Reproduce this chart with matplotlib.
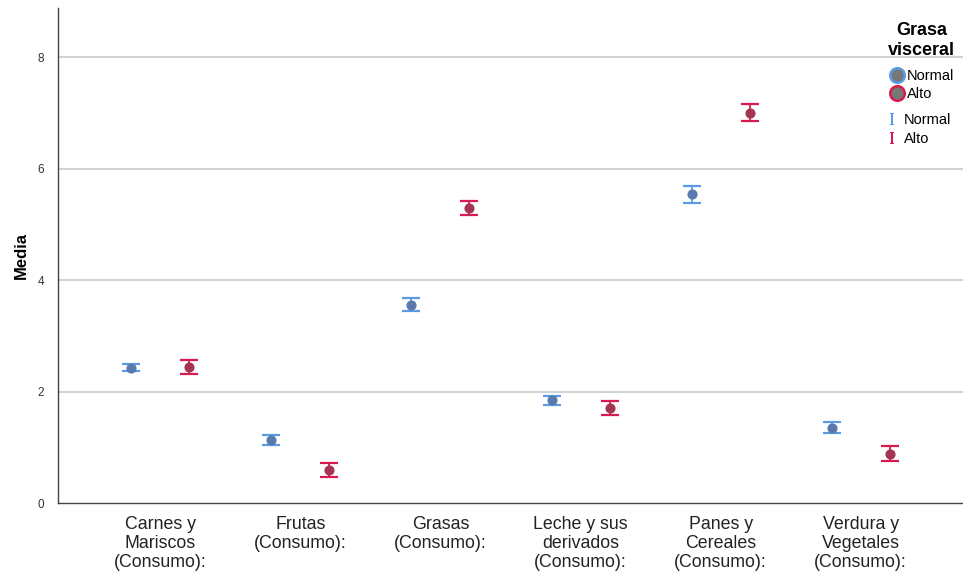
import numpy as np
import matplotlib
matplotlib.use('Agg')
from matplotlib import pyplot as plt

# Medias y semiamplitud del intervalo por grupo de grasa visceral
categorias = ['Carnes y\nMariscos\n(Consumo):', 'Frutas\n(Consumo):', 'Grasas\n(Consumo):',
              'Leche y sus\nderivados\n(Consumo):', 'Panes y\nCereales\n(Consumo):',
              'Verdura y\nVegetales\n(Consumo):']
media_normal = [2.43, 1.13, 3.56, 1.84, 5.54, 1.35]
err_normal = [0.07, 0.085, 0.11, 0.075, 0.15, 0.095]
media_alto = [2.44, 0.59, 5.30, 1.70, 7.00, 0.885]
err_alto = [0.117, 0.13, 0.125, 0.13, 0.15, 0.14]

plt.rcParams['font.family'] = ['Liberation Sans', 'DejaVu Sans']
plt.rcParams['mathtext.fontset'] = 'dejavuserif'

col_normal = '#5b9be6'
col_alto = '#d81b4f'
fill_normal = '#5a79ad'
fill_alto = '#a23553'

fig = plt.figure(figsize=(9.63, 5.71), dpi=100)
ax = fig.add_axes([58 / 963, 68 / 571, 905 / 963, 495 / 571])

x = np.arange(len(categorias))
off = 0.207

for y in [2, 4, 6, 8]:
    ax.axhline(y, color='#d2d2d2', lw=1.5, zorder=0)

ax.errorbar(x - off, media_normal, yerr=err_normal, fmt='none', ecolor=col_normal,
            elinewidth=1.3, capsize=6.5, capthick=1.6, zorder=2)
ax.errorbar(x + off, media_alto, yerr=err_alto, fmt='none', ecolor=col_alto,
            elinewidth=1.3, capsize=6.5, capthick=1.6, zorder=2)
ax.plot(x - off, media_normal, 'o', ms=6.5, mfc=fill_normal, mec=fill_normal, mew=0.8, zorder=3)
ax.plot(x + off, media_alto, 'o', ms=6.5, mfc=fill_alto, mec=fill_alto, mew=0.8, zorder=3)

ax.set_xlim(-0.73, 5.73)
ax.set_ylim(0, 8.88)
ax.set_yticks([0, 2, 4, 6, 8])
ax.set_xticks(x)
ax.set_xticklabels(categorias, fontsize=12.8, color='#222222', linespacing=1.13)
ax.tick_params(axis='y', length=0, labelsize=8.5, labelcolor='#333333', pad=10)
ax.tick_params(axis='x', length=0, pad=9.5)
for s in ['top', 'right']:
    ax.spines[s].set_visible(False)
for s in ['left', 'bottom']:
    ax.spines[s].set_color('#444444')
    ax.spines[s].set_linewidth(1.0)
ax.set_ylabel('Media', fontsize=12, fontweight='bold', labelpad=6)

# leyenda: título, puntos con borde de color y barras de error
ax.text(0.954, 0.972, 'Grasa\nvisceral', transform=ax.transAxes, ha='center', va='top',
        fontsize=13, fontweight='bold', linespacing=1.25)
h1 = plt.Line2D([], [], ls='none', marker='o', ms=10.5, mfc='#777777', mec=col_normal, mew=1.8)
h2 = plt.Line2D([], [], ls='none', marker='o', ms=10.5, mfc='#777777', mec=col_alto, mew=1.8)
leg1 = ax.legend([h1, h2], ['Normal', 'Alto'], loc='upper left', bbox_to_anchor=(0.919, 0.877),
                 frameon=False, fontsize=10.5, handlelength=1.0, handletextpad=0.2,
                 labelspacing=0.3, borderaxespad=0, borderpad=0)
ax.add_artist(leg1)
h3 = plt.Line2D([], [], ls='none', marker=r'$\mathrm{I}$', ms=9, mew=0, color=col_normal)
h4 = plt.Line2D([], [], ls='none', marker=r'$\mathrm{I}$', ms=9, mew=0, color=col_alto)
ax.legend([h3, h4], ['Normal', 'Alto'], loc='upper left', bbox_to_anchor=(0.917, 0.788),
          frameon=False, fontsize=10.5, handlelength=0.6, handletextpad=0.5,
          labelspacing=0.35, borderaxespad=0, borderpad=0)

fig.savefig('out.png', dpi=100, facecolor='white')
